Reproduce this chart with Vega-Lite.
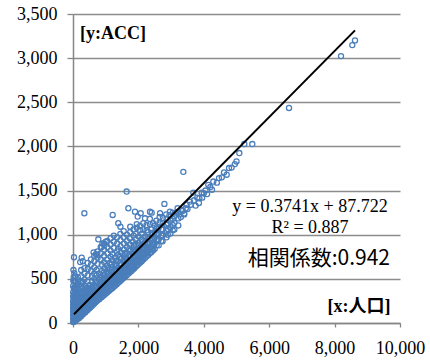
{
  "$schema": "https://vega.github.io/schema/vega-lite/v6.json",
  "width": 327,
  "height": 309,
  "autosize": {"type": "none"},
  "padding": {"left": 73, "top": 14, "right": 30, "bottom": 38},
  "background": "white",
  "config": {
    "view": {"stroke": null},
    "axis": {
      "labelFont": "Liberation Serif",
      "labelFontSize": 18,
      "labelColor": "#000000",
      "domainColor": "#868686",
      "domainWidth": 1.5,
      "tickColor": "#868686",
      "tickWidth": 1.3,
      "gridColor": "#8c8c8c",
      "gridWidth": 1.3,
      "labelOverlap": false,
      "labelBound": false,
      "labelFlush": false,
      "title": null
    }
  },
  "layer": [
    {
      "data": {"values": [
        {"x":5,"y":10},{"x":5,"y":50},{"x":5,"y":90},{"x":5,"y":130},{"x":5,"y":170},{"x":5,"y":210},{"x":5,"y":250},{"x":5,"y":300},{"x":5,"y":350},{"x":5,"y":420},
        {"x":30,"y":15},{"x":30,"y":55},{"x":30,"y":95},{"x":30,"y":140},{"x":30,"y":185},{"x":30,"y":230},{"x":30,"y":280},{"x":30,"y":330},{"x":30,"y":390},{"x":30,"y":470},
        {"x":70,"y":25},{"x":70,"y":65},{"x":70,"y":105},{"x":70,"y":150},{"x":70,"y":195},{"x":70,"y":240},{"x":70,"y":290},{"x":70,"y":340},{"x":70,"y":400},
        {"x":120,"y":40},{"x":120,"y":80},{"x":120,"y":120},{"x":120,"y":165},{"x":120,"y":210},{"x":120,"y":255},{"x":120,"y":300},{"x":120,"y":350},{"x":120,"y":410},
        {"x":180,"y":55},{"x":180,"y":95},{"x":180,"y":140},{"x":180,"y":185},{"x":180,"y":230},{"x":180,"y":275},{"x":180,"y":325},{"x":180,"y":380},{"x":180,"y":440},
        {"x":240,"y":75},{"x":240,"y":115},{"x":240,"y":160},{"x":240,"y":205},{"x":240,"y":250},{"x":240,"y":300},{"x":240,"y":350},{"x":240,"y":410},
        {"x":300,"y":95},{"x":300,"y":140},{"x":300,"y":185},{"x":300,"y":230},{"x":300,"y":280},{"x":300,"y":330},{"x":300,"y":390},{"x":300,"y":460},
        {"x":370,"y":120},{"x":370,"y":165},{"x":370,"y":210},{"x":370,"y":260},{"x":370,"y":310},{"x":370,"y":360},{"x":370,"y":420},
        {"x":440,"y":145},{"x":440,"y":190},{"x":440,"y":240},{"x":440,"y":290},{"x":440,"y":340},{"x":440,"y":400},{"x":440,"y":470},
        {"x":510,"y":170},{"x":510,"y":215},{"x":510,"y":265},{"x":510,"y":315},{"x":510,"y":370},{"x":510,"y":430},
        {"x":580,"y":195},{"x":580,"y":240},{"x":580,"y":290},{"x":580,"y":345},{"x":580,"y":400},{"x":580,"y":470},{"x":580,"y":530},
        {"x":650,"y":220},{"x":650,"y":270},{"x":650,"y":320},{"x":650,"y":375},{"x":650,"y":430},{"x":650,"y":500},
        {"x":720,"y":245},{"x":720,"y":295},{"x":720,"y":350},{"x":720,"y":405},{"x":720,"y":465},{"x":720,"y":540},{"x":720,"y":600},
        {"x":800,"y":270},{"x":800,"y":320},{"x":800,"y":375},{"x":800,"y":430},{"x":800,"y":490},{"x":800,"y":560},
        {"x":880,"y":295},{"x":880,"y":350},{"x":880,"y":405},{"x":880,"y":460},{"x":880,"y":520},{"x":880,"y":590},{"x":880,"y":660},
        {"x":960,"y":320},{"x":960,"y":375},{"x":960,"y":430},{"x":960,"y":490},{"x":960,"y":550},{"x":960,"y":620},
        {"x":1040,"y":345},{"x":1040,"y":400},{"x":1040,"y":460},{"x":1040,"y":520},{"x":1040,"y":580},{"x":1040,"y":650},{"x":1040,"y":720},
        {"x":1120,"y":370},{"x":1120,"y":425},{"x":1120,"y":485},{"x":1120,"y":545},{"x":1120,"y":610},{"x":1120,"y":680},
        {"x":1200,"y":395},{"x":1200,"y":450},{"x":1200,"y":510},{"x":1200,"y":570},{"x":1200,"y":635},{"x":1200,"y":710},{"x":1200,"y":780},
        {"x":1290,"y":425},{"x":1290,"y":480},{"x":1290,"y":540},{"x":1290,"y":600},{"x":1290,"y":665},{"x":1290,"y":740},
        {"x":1380,"y":455},{"x":1380,"y":510},{"x":1380,"y":570},{"x":1380,"y":630},{"x":1380,"y":700},{"x":1380,"y":770},{"x":1380,"y":840},
        {"x":1470,"y":485},{"x":1470,"y":540},{"x":1470,"y":600},{"x":1470,"y":665},{"x":1470,"y":730},{"x":1470,"y":800},
        {"x":1560,"y":515},{"x":1560,"y":570},{"x":1560,"y":630},{"x":1560,"y":695},{"x":1560,"y":760},{"x":1560,"y":830},{"x":1560,"y":900},
        {"x":1650,"y":545},{"x":1650,"y":600},{"x":1650,"y":660},{"x":1650,"y":725},{"x":1650,"y":790},{"x":1650,"y":860},
        {"x":1740,"y":575},{"x":1740,"y":630},{"x":1740,"y":690},{"x":1740,"y":755},{"x":1740,"y":820},{"x":1740,"y":890},{"x":1740,"y":960},
        {"x":1830,"y":605},{"x":1830,"y":660},{"x":1830,"y":720},{"x":1830,"y":785},{"x":1830,"y":850},{"x":1830,"y":920},
        {"x":1920,"y":640},{"x":1920,"y":695},{"x":1920,"y":755},{"x":1920,"y":815},{"x":1920,"y":880},{"x":1920,"y":950},{"x":1920,"y":1010},
        {"x":2010,"y":670},{"x":2010,"y":725},{"x":2010,"y":785},{"x":2010,"y":845},{"x":2010,"y":910},{"x":2010,"y":980},
        {"x":2100,"y":700},{"x":2100,"y":755},{"x":2100,"y":815},{"x":2100,"y":880},{"x":2100,"y":945},{"x":2100,"y":1010},
        {"x":2200,"y":735},{"x":2200,"y":790},{"x":2200,"y":850},{"x":2200,"y":915},{"x":2200,"y":980},
        {"x":2300,"y":770},{"x":2300,"y":830},{"x":2300,"y":890},{"x":2300,"y":955},{"x":2300,"y":1030},
        {"x":2400,"y":805},{"x":2400,"y":865},{"x":2400,"y":930},{"x":2400,"y":995},{"x":2400,"y":1060},
        {"x":2500,"y":840},{"x":2500,"y":900},{"x":2500,"y":965},{"x":2500,"y":1030},{"x":2500,"y":1100},
        {"x":2620,"y":880},{"x":2620,"y":945},{"x":2620,"y":1010},{"x":2620,"y":1080},
        {"x":2740,"y":925},{"x":2740,"y":990},{"x":2740,"y":1060},{"x":2740,"y":1130},
        {"x":2860,"y":970},{"x":2860,"y":1040},{"x":2860,"y":1110},{"x":2860,"y":1180},
        {"x":2980,"y":1015},{"x":2980,"y":1085},{"x":2980,"y":1160},
        {"x":3100,"y":1060},{"x":3100,"y":1135},{"x":3100,"y":1210},
        {"x":3220,"y":1105},{"x":3220,"y":1185},{"x":3220,"y":1260},
        {"x":95,"y":45},{"x":95,"y":85},{"x":95,"y":125},
        {"x":150,"y":60},{"x":150,"y":100},{"x":150,"y":145},
        {"x":210,"y":75},{"x":210,"y":115},{"x":210,"y":160},
        {"x":270,"y":95},{"x":270,"y":135},{"x":270,"y":180},
        {"x":335,"y":115},{"x":335,"y":155},{"x":335,"y":200},
        {"x":405,"y":140},{"x":405,"y":180},{"x":405,"y":225},
        {"x":475,"y":160},{"x":475,"y":205},{"x":475,"y":250},
        {"x":545,"y":185},{"x":545,"y":230},{"x":545,"y":275},
        {"x":615,"y":210},{"x":615,"y":255},{"x":615,"y":300},
        {"x":685,"y":235},{"x":685,"y":280},{"x":685,"y":330},
        {"x":760,"y":260},{"x":760,"y":305},{"x":760,"y":355},
        {"x":840,"y":285},{"x":840,"y":335},{"x":840,"y":385},
        {"x":920,"y":310},{"x":920,"y":360},{"x":920,"y":415},
        {"x":1000,"y":335},{"x":1000,"y":385},{"x":1000,"y":440},
        {"x":1080,"y":360},{"x":1080,"y":410},{"x":1080,"y":470},
        {"x":1160,"y":385},{"x":1160,"y":440},{"x":1160,"y":495},
        {"x":1245,"y":410},{"x":1245,"y":465},{"x":1245,"y":525},
        {"x":1335,"y":440},{"x":1335,"y":495},{"x":1335,"y":555},
        {"x":1425,"y":470},{"x":1425,"y":525},{"x":1425,"y":585},
        {"x":1515,"y":500},{"x":1515,"y":555},{"x":1515,"y":615},
        {"x":1605,"y":530},{"x":1605,"y":585},{"x":1605,"y":645},
        {"x":1695,"y":560},{"x":1695,"y":615},{"x":1695,"y":675},
        {"x":1785,"y":590},{"x":1785,"y":645},{"x":1785,"y":705},
        {"x":1875,"y":620},{"x":1875,"y":680},{"x":1875,"y":740},
        {"x":1965,"y":655},{"x":1965,"y":710},{"x":1965,"y":770},
        {"x":2055,"y":685},{"x":2055,"y":740},{"x":2055,"y":800},
        {"x":2150,"y":720},{"x":2150,"y":775},{"x":2150,"y":835},
        {"x":2250,"y":755},{"x":2250,"y":810},{"x":2250,"y":870},
        {"x":2350,"y":790},{"x":2350,"y":850},{"x":2350,"y":910},
        {"x":2450,"y":825},{"x":2450,"y":885},{"x":2450,"y":945},
        {"x":50,"y":35},{"x":50,"y":75},{"x":50,"y":115},{"x":50,"y":160},{"x":50,"y":205},{"x":50,"y":250},{"x":50,"y":300},
        {"x":100,"y":60},{"x":100,"y":100},{"x":100,"y":145},{"x":100,"y":190},{"x":100,"y":235},{"x":100,"y":280},{"x":100,"y":330},
        {"x":200,"y":90},{"x":200,"y":130},{"x":200,"y":175},{"x":200,"y":220},{"x":200,"y":265},{"x":200,"y":310},
        {"x":285,"y":120},{"x":285,"y":160},{"x":285,"y":205},{"x":285,"y":250},{"x":285,"y":295},{"x":285,"y":350},
        {"x":390,"y":150},{"x":390,"y":195},{"x":390,"y":240},{"x":390,"y":285},{"x":390,"y":335},{"x":390,"y":390},
        {"x":490,"y":185},{"x":490,"y":230},{"x":490,"y":280},{"x":490,"y":330},{"x":490,"y":390},
        {"x":600,"y":225},{"x":600,"y":270},{"x":600,"y":320},{"x":600,"y":370},{"x":600,"y":420},
        {"x":700,"y":260},{"x":700,"y":310},{"x":700,"y":360},{"x":700,"y":415},{"x":700,"y":470},
        {"x":820,"y":300},{"x":820,"y":350},{"x":820,"y":405},{"x":820,"y":460},{"x":820,"y":520},
        {"x":940,"y":340},{"x":940,"y":395},{"x":940,"y":450},{"x":940,"y":510},{"x":940,"y":570},
        {"x":1060,"y":380},{"x":1060,"y":435},{"x":1060,"y":495},{"x":1060,"y":555},{"x":1060,"y":620},
        {"x":1180,"y":420},{"x":1180,"y":475},{"x":1180,"y":535},{"x":1180,"y":600},{"x":1180,"y":665},
        {"x":1310,"y":460},{"x":1310,"y":515},{"x":1310,"y":575},{"x":1310,"y":640},{"x":1310,"y":705},
        {"x":1440,"y":500},{"x":1440,"y":555},{"x":1440,"y":615},{"x":1440,"y":680},{"x":1440,"y":750},
        {"x":1580,"y":545},{"x":1580,"y":600},{"x":1580,"y":660},{"x":1580,"y":725},{"x":1580,"y":790},
        {"x":1720,"y":590},{"x":1720,"y":645},{"x":1720,"y":705},{"x":1720,"y":770},{"x":1720,"y":840},
        {"x":1860,"y":635},{"x":1860,"y":690},{"x":1860,"y":750},{"x":1860,"y":815},{"x":1860,"y":880},
        {"x":2000,"y":700},{"x":2000,"y":760},{"x":2000,"y":820},{"x":2000,"y":885},
        {"x":2140,"y":740},{"x":2140,"y":800},{"x":2140,"y":860},{"x":2140,"y":925},
        {"x":2280,"y":790},{"x":2280,"y":850},{"x":2280,"y":910},{"x":2280,"y":975},
        {"x":2420,"y":835},{"x":2420,"y":895},{"x":2420,"y":960},{"x":2420,"y":1020},
        {"x":2560,"y":880},{"x":2560,"y":940},{"x":2560,"y":1005},{"x":2560,"y":1070},
        {"x":2700,"y":930},{"x":2700,"y":995},{"x":2700,"y":1060},
        {"x":2900,"y":1000},{"x":2900,"y":1065},{"x":2900,"y":1130},
        {"x":3050,"y":1050},{"x":3050,"y":1110},{"x":3050,"y":1180},
        {"x":60,"y":480},{"x":60,"y":530},{"x":150,"y":470},{"x":150,"y":520},
        {"x":250,"y":470},{"x":250,"y":530},{"x":250,"y":600},
        {"x":350,"y":490},{"x":350,"y":560},{"x":350,"y":620},
        {"x":450,"y":540},{"x":450,"y":610},{"x":450,"y":680},
        {"x":550,"y":590},{"x":550,"y":660},{"x":550,"y":720},
        {"x":650,"y":560},{"x":650,"y":630},{"x":650,"y":700},{"x":650,"y":760},
        {"x":750,"y":670},{"x":750,"y":740},{"x":750,"y":810},
        {"x":850,"y":720},{"x":850,"y":790},{"x":850,"y":860},
        {"x":950,"y":690},{"x":950,"y":760},{"x":950,"y":830},{"x":950,"y":900},
        {"x":1050,"y":790},{"x":1050,"y":860},{"x":1050,"y":930},
        {"x":1150,"y":750},{"x":1150,"y":820},{"x":1150,"y":890},{"x":1150,"y":960},
        {"x":1250,"y":850},{"x":1250,"y":920},{"x":1250,"y":990},
        {"x":1350,"y":810},{"x":1350,"y":900},{"x":1350,"y":970},
        {"x":1450,"y":870},{"x":1450,"y":940},{"x":1450,"y":1010},
        {"x":1550,"y":970},{"x":1550,"y":1040},{"x":1650,"y":930},{"x":1650,"y":1000},
        {"x":1750,"y":1030},{"x":1750,"y":1090},{"x":1850,"y":990},{"x":1850,"y":1060},
        {"x":1950,"y":1080},{"x":1950,"y":1120},{"x":2050,"y":1050},{"x":2050,"y":1100},
        {"x":2150,"y":1060},{"x":2150,"y":1130},{"x":2250,"y":1050},{"x":2250,"y":1110},
        {"x":2350,"y":1120},{"x":2350,"y":1180},{"x":2450,"y":1130},{"x":2550,"y":1160},
        {"x":2650,"y":1140},{"x":2650,"y":1200},{"x":2750,"y":1190},{"x":2850,"y":1230},
        {"x":2950,"y":1220},{"x":3050,"y":1250},
        {"x":30,"y":745},{"x":15,"y":600},{"x":40,"y":565},{"x":92,"y":466},{"x":265,"y":740},{"x":300,"y":700},{"x":220,"y":690},
        {"x":347,"y":1243},{"x":630,"y":800},{"x":700,"y":780},{"x":740,"y":770},{"x":775,"y":948},{"x":900,"y":900},{"x":960,"y":880},
        {"x":1000,"y":920},{"x":880,"y":860},{"x":1213,"y":1224},{"x":1385,"y":1130},{"x":1450,"y":1091},{"x":1640,"y":1489},
        {"x":1693,"y":1300},{"x":1896,"y":1261},{"x":1978,"y":1205},{"x":2070,"y":1243},{"x":2202,"y":1186},{"x":2355,"y":1261},
        {"x":2406,"y":1250},{"x":2661,"y":1243},{"x":2795,"y":1349},{"x":2966,"y":1261},{"x":3324,"y":1281},{"x":3374,"y":1712},
        {"x":3476,"y":1338},{"x":3578,"y":1375},{"x":3680,"y":1477},{"x":3865,"y":1413},{"x":3935,"y":1477},{"x":4138,"y":1565},
        {"x":4291,"y":1602},{"x":4465,"y":1641},{"x":4618,"y":1705},{"x":4771,"y":1755},{"x":5086,"y":1925},{"x":5239,"y":2027},
        {"x":5483,"y":2027},{"x":6606,"y":2436},{"x":8196,"y":3023},{"x":8541,"y":3148},{"x":8624,"y":3201},
        {"x":3150,"y":1250},{"x":3200,"y":1300},{"x":3250,"y":1230},{"x":3350,"y":1270},{"x":3400,"y":1240},{"x":3450,"y":1300},
        {"x":3500,"y":1290},{"x":3600,"y":1340},{"x":3700,"y":1390},{"x":3750,"y":1330},{"x":3800,"y":1420},{"x":3850,"y":1360},
        {"x":3950,"y":1420},{"x":4000,"y":1470},{"x":4050,"y":1500},{"x":4100,"y":1460},{"x":4200,"y":1540},{"x":4250,"y":1510},
        {"x":4400,"y":1590},{"x":4550,"y":1650},{"x":4700,"y":1680},{"x":4850,"y":1760},{"x":4950,"y":1800},{"x":5000,"y":1830},
        {"x":3300,"y":1200},{"x":3400,"y":1230},{"x":10,"y":480},{"x":20,"y":520},{"x":80,"y":380},{"x":40,"y":400}
      ]},
      "mark": {"type": "point", "shape": "circle", "filled": false, "size": 26, "strokeWidth": 1.3, "color": "#4a7ebb", "opacity": 1},
      "encoding": {
        "x": {"field": "x", "type": "quantitative",
              "scale": {"domain": [0, 10000], "nice": false},
              "axis": {"values": [0, 2000, 4000, 6000, 8000, 10000], "format": ",d", "grid": false, "tickSize": 4, "labelPadding": 12}},
        "y": {"field": "y", "type": "quantitative",
              "scale": {"domain": [0, 3500], "nice": false},
              "axis": {"values": [0, 500, 1000, 1500, 2000, 2500, 3000, 3500], "format": ",d", "grid": true, "tickSize": 6, "labelPadding": 10}}
      }
    },
    {
      "data": {"values": [{"x": 30, "y": 99}, {"x": 8624, "y": 3314}]},
      "mark": {"type": "line", "color": "#000000", "strokeWidth": 2},
      "encoding": {
        "x": {"field": "x", "type": "quantitative"},
        "y": {"field": "y", "type": "quantitative"}
      }
    },
    {
      "mark": {"type": "rule", "color": "#000000", "strokeWidth": 1.5},
      "encoding": {"y": {"datum": 3500, "type": "quantitative"}}
    },
    {
      "mark": {"type": "rule", "color": "#000000", "strokeWidth": 1.5},
      "encoding": {"x": {"datum": 10000, "type": "quantitative"}}
    },
    {
      "data": {"values": [
        {"x": 214, "y": 3216, "t": "[y:ACC]"}
      ]},
      "mark": {"type": "text", "align": "left", "baseline": "alphabetic", "font": "Liberation Serif", "fontSize": 18, "fontWeight": "bold", "color": "#000000"},
      "encoding": {
        "x": {"field": "x", "type": "quantitative"},
        "y": {"field": "y", "type": "quantitative"},
        "text": {"field": "t"}
      }
    },
    {
      "data": {"values": [
        {"x": 9709, "y": 121, "t": "[x:人口]"}
      ]},
      "mark": {"type": "text", "align": "right", "baseline": "alphabetic", "font": "Liberation Serif, Noto Sans CJK JP", "fontSize": 18, "fontWeight": "bold", "color": "#000000"},
      "encoding": {
        "x": {"field": "x", "type": "quantitative"},
        "y": {"field": "y", "type": "quantitative"},
        "text": {"field": "t"}
      }
    },
    {
      "data": {"values": [
        {"x": 7248, "y": 1254, "t": "y = 0.3741x + 87.722"},
        {"x": 7248, "y": 1016, "t": "R² = 0.887"}
      ]},
      "mark": {"type": "text", "align": "center", "baseline": "alphabetic", "font": "Liberation Serif", "fontSize": 18, "color": "#000000"},
      "encoding": {
        "x": {"field": "x", "type": "quantitative"},
        "y": {"field": "y", "type": "quantitative"},
        "text": {"field": "t"}
      }
    },
    {
      "data": {"values": [
        {"x": 9694, "y": 654, "t": "相関係数:0.942"}
      ]},
      "mark": {"type": "text", "align": "right", "baseline": "alphabetic", "font": "Noto Sans CJK JP", "fontSize": 21, "color": "#000000"},
      "encoding": {
        "x": {"field": "x", "type": "quantitative"},
        "y": {"field": "y", "type": "quantitative"},
        "text": {"field": "t"}
      }
    }
  ]
}
